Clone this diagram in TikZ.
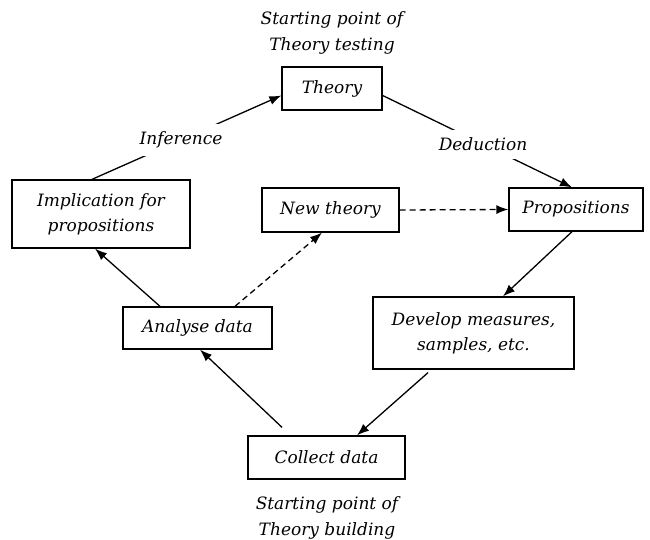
\documentclass[tikz,border=0pt]{standalone}
\usepackage{fontspec}
\setmainfont{DejaVu Serif}
\usetikzlibrary{arrows.meta}
\begin{document}
\begin{tikzpicture}[x=1pt,y=-1pt,
  box/.style={draw, line width=1.3pt, inner sep=0pt, align=center, font=\itshape\fontsize{17}{25}\selectfont},
  lbl/.style={inner sep=2pt, align=center, font=\itshape\fontsize{17}{26}\selectfont},
  conn/.style={line width=1.3pt, -{Latex[length=12pt,width=9pt]}},
  dconn/.style={conn, dash pattern=on 6pt off 4pt}]
\useasboundingbox (0,0) rectangle (650,540);
\node[box, minimum width=100pt, minimum height=43pt] (theory) at (332,88.5) {Theory};
\node[box, minimum width=178pt, minimum height=68pt] (impl) at (101,214) {Implication for\\propositions};
\node[box, minimum width=137pt, minimum height=44pt] (newth) at (330.5,210) {New theory};
\node[box, minimum width=134pt, minimum height=43pt] (props) at (576,209.5) {Propositions};
\node[box, minimum width=201pt, minimum height=72pt] (develop) at (473.5,333) {Develop measures,\\samples, etc.};
\node[box, minimum width=149pt, minimum height=42pt] (analyse) at (197.5,328) {Analyse data};
\node[box, minimum width=157pt, minimum height=43pt] (collect) at (326.5,457.5) {Collect data};
\node[lbl] (toplbl) at (332,33) {Starting point of\\Theory testing};
\node[lbl] (botlbl) at (327,518) {Starting point of\\Theory building};
\draw[conn] ([xshift=-9pt]impl.north) -- node[lbl, fill=white, pos=0.47, inner xsep=6pt, inner ysep=8pt] {Inference} ([yshift=-7pt]theory.west);
\draw[conn] ([yshift=-7pt]theory.east) -- node[lbl, fill=white, pos=0.53, inner xsep=6pt, inner ysep=8pt] {Deduction} ([xshift=-4pt]props.north);
\draw[conn] ([xshift=-4pt]props.south) -- ([xshift=29.5pt]develop.north);
\draw[conn] ([xshift=-45.5pt,yshift=-3pt]develop.south) -- ([xshift=30.5pt]collect.north);
\draw[conn] ([xshift=-44.5pt,yshift=8pt]collect.north) -- ([xshift=2.5pt]analyse.south);
\draw[conn] ([xshift=-37.5pt]analyse.north) -- ([xshift=-6pt]impl.south);
\draw[dconn] ([xshift=37.5pt]analyse.north) -- ([xshift=-8.5pt]newth.south);
\draw[dconn] (newth.east) -- (props.west);
\end{tikzpicture}
\end{document}
